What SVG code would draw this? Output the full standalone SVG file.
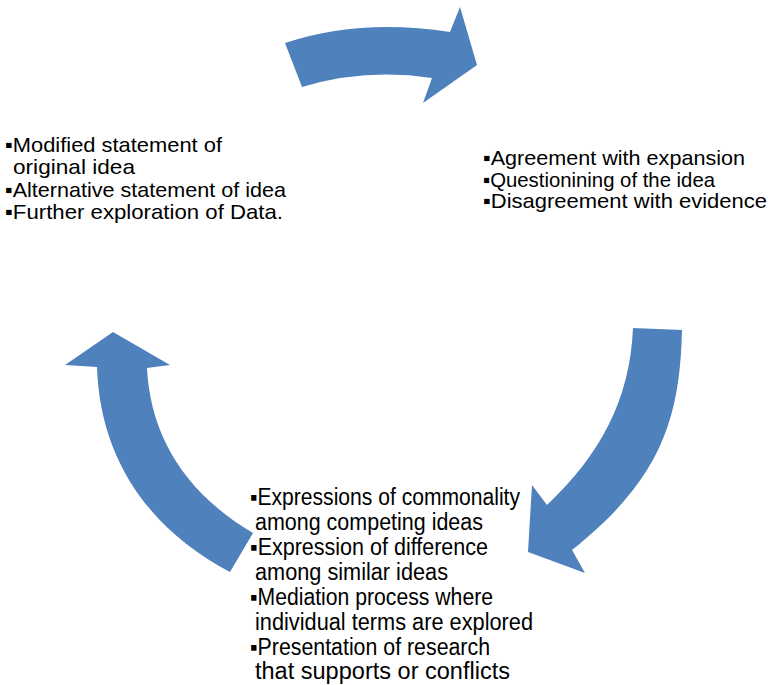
<svg xmlns="http://www.w3.org/2000/svg" width="768" height="685" viewBox="0 0 768 685">
<style>
.arrow{fill:#4f81bd;stroke:none}
.t{font-family:"Liberation Sans",Arial,"DejaVu Sans",sans-serif;fill:#000;font-size:21px}
.b{font-size:23px}
</style>
<rect width="768" height="685" fill="#ffffff"/>
<g id="connectors">
<path id="arrow-top" class="arrow" d="M285,43 Q360,18 450,32 L460,7 L477,65 L423,103 L432,78 Q365,68 302,87 Z"/>
<path id="arrow-right" class="arrow" d="M633,328 L682,330 C680,420 660,480 572,550 L585,573 L528,552 L532,485 L547,505 C600,455 630,400 633,328 Z"/>
<path id="arrow-left" class="arrow" d="M113,332 L170,365 L147,368 C150,430 180,490 253,533 L230,572 C150,530 100,460 97,367 L65,365 Z"/>
</g>
<g id="node-left">
<text class="t" x="5" y="152" textLength="217" lengthAdjust="spacingAndGlyphs">▪Modified statement of</text>
<text class="t" x="13" y="174" textLength="122" lengthAdjust="spacingAndGlyphs">original idea</text>
<text class="t" x="5" y="197" textLength="281" lengthAdjust="spacingAndGlyphs">▪Alternative statement of idea</text>
<text class="t" x="5" y="219" textLength="278" lengthAdjust="spacingAndGlyphs">▪Further exploration of Data.</text>
</g>
<g id="node-right">
<text class="t" x="483" y="165" textLength="262" lengthAdjust="spacingAndGlyphs">▪Agreement with expansion</text>
<text class="t" x="483" y="187" textLength="232" lengthAdjust="spacingAndGlyphs">▪Questionining of the idea</text>
<text class="t" x="483" y="208" textLength="284" lengthAdjust="spacingAndGlyphs">▪Disagreement with evidence</text>
</g>
<g id="node-bottom">
<text class="t b" x="250" y="505" textLength="270" lengthAdjust="spacingAndGlyphs">▪Expressions of commonality</text>
<text class="t b" x="255" y="530" textLength="228" lengthAdjust="spacingAndGlyphs">among competing ideas</text>
<text class="t b" x="250" y="555" textLength="238" lengthAdjust="spacingAndGlyphs">▪Expression of difference</text>
<text class="t b" x="255" y="580" textLength="193" lengthAdjust="spacingAndGlyphs">among similar ideas</text>
<text class="t b" x="250" y="605" textLength="243" lengthAdjust="spacingAndGlyphs">▪Mediation process where</text>
<text class="t b" x="255" y="630" textLength="278" lengthAdjust="spacingAndGlyphs">individual terms are explored</text>
<text class="t b" x="250" y="655" textLength="240" lengthAdjust="spacingAndGlyphs">▪Presentation of research</text>
<text class="t b" x="255" y="679" textLength="255" lengthAdjust="spacingAndGlyphs">that supports or conflicts</text>
</g>
</svg>
